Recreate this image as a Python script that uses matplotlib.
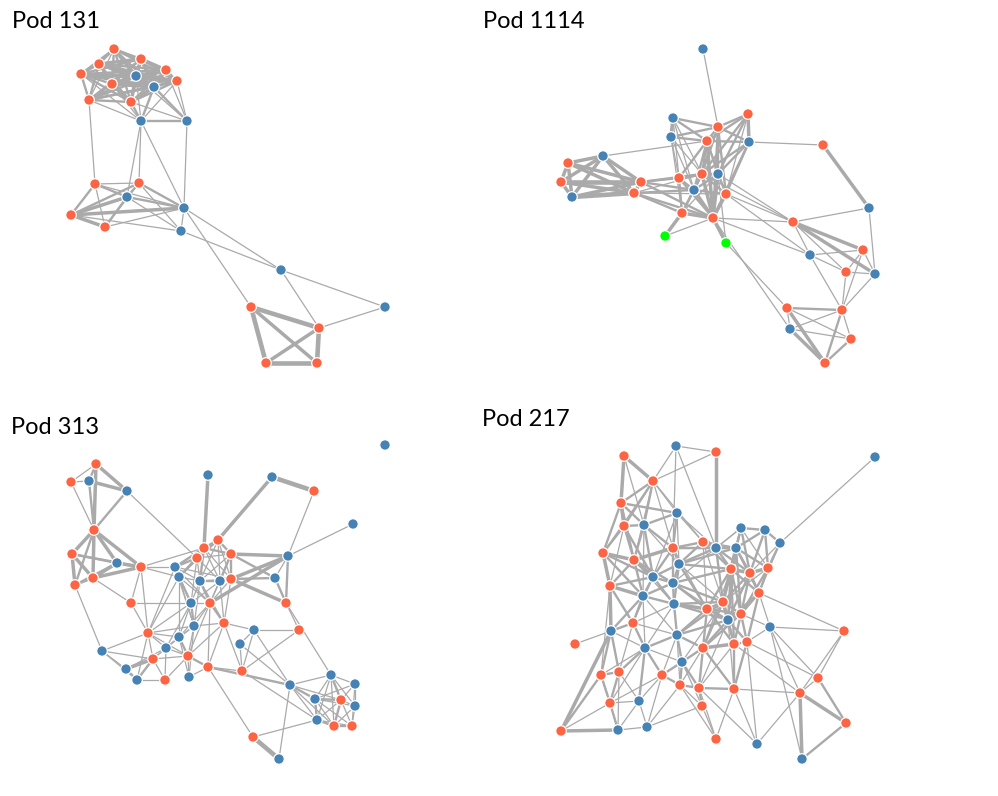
"""Four co-occurrence networks, one per pod, drawn on a shared pixel canvas."""

import matplotlib
import matplotlib.pyplot as plt

matplotlib.use("Agg")

NODE_COLORS = {"o": "#fc6443", "b": "#4682b4", "g": "#00ff00"}
EDGE_COLOR = "#aaaaaa"

# ── Pod 131 ─────────────────────────────────────────────────────────
POD131_NODES = [
    (114, 49, "o"), (99, 64, "o"), (141, 59, "o"), (81, 74, "o"),
    (136, 76, "b"), (166, 70, "o"), (177, 81, "o"), (112, 84, "o"),
    (154, 87, "b"), (89, 100, "o"), (131, 102, "o"), (141, 121, "b"),
    (187, 121, "b"), (95, 184, "o"), (139, 183, "o"), (127, 197, "b"),
    (71, 215, "o"), (105, 227, "o"), (184, 208, "b"), (181, 231, "b"),
    (281, 270, "b"), (385, 307, "b"), (251, 307, "o"), (319, 328, "o"),
    (266, 363, "o"), (317, 363, "o"),
]
POD131_EDGES = [
    (0, 1, 2), (0, 2, 2), (0, 3, 2), (0, 4, 3), (0, 5, 2), (0, 7, 2),
    (0, 8, 2), (0, 9, 1), (0, 10, 2), (1, 2, 3), (1, 3, 2), (1, 4, 3),
    (1, 5, 2), (1, 7, 2), (1, 8, 2), (1, 9, 2), (1, 10, 2), (2, 3, 2),
    (2, 4, 3), (2, 5, 3), (2, 6, 2), (2, 7, 2), (2, 8, 3), (2, 10, 2),
    (3, 4, 3), (3, 5, 2), (3, 7, 2), (3, 8, 3), (3, 9, 2), (3, 10, 2),
    (4, 5, 3), (4, 6, 3), (4, 7, 3), (4, 8, 3), (4, 9, 2), (4, 10, 3),
    (5, 6, 2), (5, 7, 2), (5, 8, 3), (5, 9, 2), (5, 10, 2), (6, 7, 2),
    (6, 8, 2), (6, 9, 2), (6, 10, 2), (7, 8, 3), (7, 9, 2), (7, 10, 3),
    (8, 9, 2), (8, 10, 3), (9, 10, 2), (0, 6, 2), (1, 6, 2), (2, 9, 2),
    (3, 6, 2),
    (11, 4, 1), (11, 8, 2), (11, 10, 2), (11, 7, 1), (11, 9, 1),
    (11, 6, 1), (11, 3, 1), (12, 6, 1), (12, 8, 2), (12, 5, 1),
    (12, 10, 1), (12, 4, 1), (11, 12, 2),
    (9, 13, 1), (11, 14, 1), (11, 15, 1), (12, 18, 1), (11, 18, 1),
    (13, 14, 1), (13, 15, 2), (13, 16, 2), (13, 17, 1), (13, 18, 1),
    (14, 15, 2), (14, 16, 2), (14, 18, 2), (14, 17, 1), (15, 16, 3),
    (15, 17, 2), (15, 18, 2), (15, 19, 1), (16, 17, 3), (16, 18, 3),
    (17, 18, 1), (18, 19, 1), (16, 19, 1), (14, 19, 1),
    (18, 20, 1), (19, 20, 1), (18, 22, 1), (20, 21, 1), (20, 23, 1),
    (21, 23, 1), (22, 23, 4), (22, 24, 4), (22, 25, 3), (23, 24, 3),
    (23, 25, 4), (24, 25, 4),
]

# ── Pod 1114 ────────────────────────────────────────────────────────
POD1114_NODES = [
    (703, 49, "b"), (673, 118, "b"), (748, 114, "o"), (718, 127, "o"),
    (671, 137, "b"), (707, 141, "o"), (749, 142, "b"), (603, 156, "b"),
    (568, 163, "o"), (561, 182, "o"), (641, 182, "o"), (679, 178, "o"),
    (702, 174, "o"), (718, 174, "b"), (694, 190, "b"), (634, 193, "o"),
    (572, 197, "b"), (726, 194, "o"), (682, 213, "o"), (713, 218, "o"),
    (665, 236, "g"), (726, 243, "g"), (823, 145, "o"), (869, 208, "b"),
    (793, 222, "o"), (863, 250, "o"), (810, 255, "b"), (846, 272, "o"),
    (875, 274, "b"), (787, 308, "o"), (842, 310, "o"), (790, 329, "b"),
    (851, 339, "o"), (825, 363, "o"),
]
POD1114_EDGES = [
    (0, 3, 1),
    (7, 8, 3), (7, 9, 3), (7, 16, 3), (7, 10, 3), (7, 15, 3), (8, 9, 3),
    (8, 16, 3), (8, 10, 3), (8, 15, 3), (9, 16, 3), (9, 10, 4), (9, 15, 3),
    (16, 10, 3), (16, 15, 4), (10, 15, 3), (7, 5, 1),
    (10, 11, 2), (10, 12, 2), (10, 14, 2), (15, 14, 2), (15, 19, 2),
    (15, 18, 2), (10, 13, 1), (15, 12, 1), (10, 19, 2), (15, 17, 1),
    (1, 3, 2), (1, 4, 3), (1, 5, 2), (1, 11, 1), (1, 14, 1), (1, 12, 1),
    (2, 3, 2), (2, 5, 2), (2, 6, 3), (2, 12, 2), (2, 13, 2), (2, 17, 1),
    (3, 4, 2), (3, 5, 2), (3, 6, 2), (3, 11, 1), (3, 12, 2), (3, 13, 2),
    (3, 14, 1), (3, 19, 2), (4, 5, 2), (4, 11, 1), (4, 14, 1), (4, 18, 1),
    (4, 12, 1), (5, 6, 2), (5, 11, 2), (5, 12, 2), (5, 13, 2), (5, 14, 2),
    (5, 19, 3), (5, 17, 1), (6, 12, 2), (6, 13, 2), (6, 17, 2), (6, 19, 2),
    (11, 12, 2), (11, 13, 1), (11, 14, 2), (11, 18, 2), (11, 19, 2),
    (12, 13, 2), (12, 14, 2), (12, 17, 2), (12, 19, 3), (12, 18, 2),
    (13, 14, 2), (13, 17, 2), (13, 19, 3), (13, 18, 1), (14, 17, 2),
    (14, 18, 2), (14, 19, 3), (17, 19, 3), (18, 19, 3), (3, 17, 2),
    (18, 20, 3), (19, 21, 3), (19, 20, 1), (13, 21, 1),
    (6, 22, 1), (22, 23, 3), (23, 24, 1), (23, 28, 1),
    (13, 24, 1), (17, 24, 1), (19, 24, 1), (12, 24, 1), (17, 26, 1),
    (19, 26, 1), (24, 25, 3), (24, 28, 3), (24, 27, 1), (24, 26, 1),
    (26, 25, 1), (26, 27, 1), (26, 30, 1), (25, 27, 1), (25, 28, 1),
    (25, 30, 1), (27, 28, 1), (27, 30, 1), (28, 30, 1),
    (29, 30, 2), (29, 31, 1), (29, 33, 3), (30, 31, 1), (30, 32, 1),
    (30, 33, 2), (31, 32, 1), (31, 33, 3), (32, 33, 2), (29, 32, 1),
    (21, 29, 1), (19, 31, 1),
]

# ── Pod 313 ─────────────────────────────────────────────────────────
POD313_NODES = [
    (96, 464, "o"), (71, 482, "o"), (89, 481, "b"), (127, 491, "b"),
    (208, 475, "b"), (94, 530, "o"), (72, 554, "o"), (117, 563, "b"),
    (141, 567, "o"), (93, 578, "o"), (75, 585, "o"), (131, 603, "o"),
    (218, 540, "o"), (204, 548, "o"), (231, 554, "o"), (197, 558, "o"),
    (175, 567, "b"), (179, 577, "b"), (200, 581, "b"), (220, 581, "b"),
    (231, 579, "o"), (191, 603, "b"), (210, 603, "o"), (194, 626, "b"),
    (224, 623, "o"), (148, 633, "o"), (179, 637, "b"), (166, 648, "b"),
    (188, 656, "o"), (102, 651, "b"), (153, 659, "o"), (208, 667, "o"),
    (126, 669, "b"), (137, 680, "b"), (165, 680, "o"), (189, 677, "b"),
    (272, 477, "b"), (314, 491, "o"), (353, 524, "b"), (288, 556, "b"),
    (275, 578, "b"), (286, 603, "o"), (299, 630, "o"), (254, 630, "b"),
    (240, 644, "b"), (242, 671, "o"), (331, 675, "b"), (290, 685, "b"),
    (355, 684, "b"), (315, 699, "b"), (341, 700, "o"), (355, 706, "b"),
    (317, 720, "b"), (334, 726, "o"), (352, 726, "o"), (253, 737, "o"),
    (279, 759, "b"), (385, 445, "b"),
]
POD313_EDGES = [
    (0, 1, 1), (0, 2, 2), (0, 3, 3), (0, 5, 3), (1, 2, 1), (2, 3, 3),
    (2, 5, 2), (3, 5, 2), (1, 5, 1), (3, 15, 1),
    (5, 6, 3), (5, 7, 3), (5, 8, 3), (5, 9, 3), (5, 10, 2),
    (6, 7, 2), (6, 9, 3), (6, 10, 3), (7, 9, 3), (7, 8, 3), (9, 8, 3),
    (10, 7, 2), (10, 9, 2), (6, 8, 2),
    (8, 16, 1), (8, 11, 1), (9, 11, 1), (10, 29, 1), (11, 25, 1), (8, 13, 1),
    (4, 13, 3), (36, 12, 3), (36, 37, 4), (37, 39, 1), (38, 39, 1),
    (39, 40, 1), (39, 41, 2), (39, 14, 3), (39, 20, 3), (39, 22, 3),
    (40, 41, 2), (41, 42, 1), (20, 41, 3), (41, 46, 1), (20, 40, 2),
    (14, 40, 2), (42, 43, 1), (42, 45, 1), (43, 45, 1), (43, 47, 1),
    (12, 13, 2), (12, 14, 2), (12, 15, 2), (12, 16, 1), (12, 17, 1),
    (12, 18, 1), (12, 19, 1), (12, 20, 1), (13, 14, 2), (13, 15, 2),
    (13, 16, 2), (13, 17, 1), (13, 18, 2), (13, 19, 1), (13, 20, 1),
    (14, 15, 1), (14, 18, 1), (14, 19, 2), (14, 20, 2), (14, 22, 1),
    (15, 16, 2), (15, 17, 2), (15, 18, 1), (15, 19, 1), (15, 21, 1),
    (16, 17, 2), (16, 18, 1), (16, 21, 1), (16, 23, 1), (16, 20, 1),
    (17, 18, 1), (17, 21, 2), (17, 22, 1), (17, 23, 1), (17, 25, 1),
    (18, 19, 2), (18, 20, 1), (18, 21, 1), (18, 22, 2), (18, 23, 1),
    (19, 20, 2), (19, 22, 1), (19, 24, 1), (20, 22, 1), (20, 24, 1),
    (21, 22, 1), (21, 23, 2), (21, 26, 1), (21, 25, 1),
    (22, 23, 1), (22, 24, 2), (22, 31, 1), (22, 28, 1),
    (23, 24, 1), (23, 26, 1), (23, 28, 1), (23, 27, 1),
    (24, 31, 1), (24, 43, 1), (24, 45, 1),
    (25, 26, 1), (25, 27, 1), (25, 29, 1), (25, 30, 1), (25, 28, 1),
    (26, 27, 1), (26, 28, 2), (26, 30, 1), (26, 35, 1),
    (27, 28, 1), (27, 30, 1), (27, 34, 1),
    (28, 31, 2), (28, 34, 1), (28, 35, 1), (28, 30, 1),
    (29, 32, 1), (29, 33, 1), (29, 30, 1),
    (30, 32, 3), (30, 33, 2), (30, 34, 1), (32, 33, 2), (33, 34, 1),
    (31, 47, 2), (31, 55, 1), (31, 35, 1), (31, 45, 1),
    (44, 47, 1), (43, 44, 1), (44, 45, 1),
    (16, 25, 1), (17, 26, 1), (21, 27, 1), (23, 35, 1), (22, 26, 1),
    (24, 28, 1), (18, 24, 1), (19, 21, 1), (16, 22, 1), (25, 33, 1),
    (27, 32, 1), (25, 23, 1), (8, 17, 1), (8, 25, 1), (11, 21, 1),
    (47, 46, 1), (47, 49, 2), (47, 52, 1), (47, 56, 1), (45, 52, 1),
    (55, 52, 1), (55, 56, 4), (47, 50, 1), (47, 53, 1),
    (46, 48, 1), (46, 49, 1), (46, 50, 2), (46, 51, 1), (46, 52, 1),
    (46, 53, 1), (48, 50, 1), (48, 51, 1), (48, 54, 1), (48, 49, 1),
    (49, 50, 2), (49, 52, 2), (49, 53, 1), (49, 51, 1), (49, 54, 1),
    (50, 51, 1), (50, 52, 1), (50, 53, 2), (50, 54, 1),
    (51, 53, 1), (51, 54, 1), (52, 53, 2), (52, 54, 1), (53, 54, 2),
]

# ── Pod 217 ─────────────────────────────────────────────────────────
POD217_NODES = [
    (676, 446, "b"), (716, 452, "o"), (624, 456, "o"), (653, 481, "o"),
    (621, 503, "o"), (677, 513, "b"), (624, 526, "o"), (644, 525, "b"),
    (703, 542, "o"), (716, 548, "b"), (603, 553, "o"), (673, 548, "o"),
    (634, 560, "o"), (679, 564, "b"), (653, 577, "b"), (673, 583, "b"),
    (610, 586, "o"), (643, 596, "b"), (674, 604, "b"), (707, 609, "o"),
    (633, 623, "o"), (611, 631, "b"), (875, 457, "b"), (741, 528, "b"),
    (765, 530, "b"), (780, 543, "b"), (736, 548, "b"), (731, 569, "o"),
    (750, 573, "o"), (768, 568, "o"), (759, 593, "o"), (723, 602, "o"),
    (741, 614, "o"), (728, 620, "b"), (770, 627, "b"), (844, 631, "o"),
    (575, 644, "o"), (677, 635, "b"), (645, 648, "b"), (703, 648, "o"),
    (734, 644, "o"), (747, 642, "o"), (682, 662, "b"), (601, 675, "o"),
    (619, 672, "o"), (662, 675, "o"), (680, 685, "o"), (699, 688, "o"),
    (734, 689, "o"), (610, 703, "o"), (639, 701, "b"), (702, 706, "o"),
    (647, 727, "b"), (618, 730, "b"), (561, 731, "o"), (716, 739, "o"),
    (818, 678, "o"), (800, 693, "o"), (846, 723, "o"), (757, 744, "b"),
    (802, 759, "b"),
]
POD217_EDGES = [
    (0, 1, 1), (0, 3, 1), (0, 9, 1), (0, 11, 1), (1, 3, 1), (1, 9, 3),
    (2, 3, 3), (2, 4, 3), (2, 7, 1),
    (3, 4, 2), (3, 5, 1), (3, 7, 2), (3, 6, 2), (3, 12, 1), (3, 11, 1),
    (3, 10, 1), (3, 8, 1),
    (4, 6, 3), (4, 7, 2), (4, 10, 2), (4, 5, 2), (4, 12, 2),
    (5, 7, 2), (5, 11, 2), (5, 8, 1), (5, 13, 1), (5, 14, 1),
    (6, 7, 2), (6, 10, 2), (6, 12, 2), (6, 14, 2), (6, 16, 1),
    (7, 12, 2), (7, 14, 2), (7, 11, 2), (7, 17, 1),
    (8, 9, 2), (8, 11, 2), (8, 13, 2), (8, 26, 2), (8, 19, 1),
    (9, 11, 2), (9, 13, 2), (9, 26, 2), (9, 27, 2), (9, 15, 1),
    (10, 12, 3), (10, 16, 3), (10, 14, 2), (10, 17, 2),
    (11, 12, 3), (11, 13, 2), (11, 14, 2), (11, 15, 2),
    (12, 14, 3), (12, 16, 2), (12, 17, 2), (12, 15, 2),
    (13, 14, 2), (13, 15, 2), (13, 18, 2), (13, 27, 2),
    (14, 15, 2), (14, 17, 2), (14, 16, 2), (14, 18, 2),
    (15, 17, 2), (15, 18, 2), (15, 19, 2),
    (16, 17, 3), (16, 20, 2), (16, 21, 3), (16, 43, 1),
    (17, 18, 2), (17, 20, 2), (17, 21, 2), (17, 38, 1),
    (18, 19, 3), (18, 37, 2), (18, 20, 1), (18, 38, 1),
    (19, 31, 2), (19, 33, 2), (19, 37, 2), (19, 39, 2),
    (20, 21, 2), (20, 38, 2), (20, 44, 1),
    (21, 38, 1), (21, 36, 1), (21, 43, 2), (21, 44, 2),
    (22, 25, 1),
    (23, 24, 2), (23, 26, 2), (23, 27, 2), (23, 28, 2), (23, 9, 1),
    (23, 29, 1), (24, 25, 2), (24, 28, 2), (24, 29, 2), (24, 26, 2),
    (25, 29, 2), (25, 30, 1), (25, 28, 1),
    (26, 27, 3), (26, 28, 2), (26, 31, 2), (26, 29, 2), (26, 30, 2),
    (27, 28, 3), (27, 31, 3), (27, 32, 2), (27, 30, 2), (27, 33, 2),
    (28, 29, 3), (28, 30, 2), (28, 32, 2), (28, 33, 2),
    (29, 30, 2), (29, 32, 2),
    (30, 32, 2), (30, 34, 1), (30, 35, 1), (30, 33, 2), (30, 41, 2),
    (31, 32, 2), (31, 33, 3), (31, 40, 2), (31, 39, 2),
    (32, 33, 2), (32, 40, 2), (32, 41, 2), (32, 34, 1),
    (33, 40, 2), (33, 39, 2), (33, 37, 2), (33, 48, 1),
    (34, 35, 1), (34, 56, 1), (34, 41, 1), (34, 57, 1), (34, 60, 1),
    (35, 56, 1), (35, 57, 1),
    (13, 26, 2), (15, 27, 2), (18, 31, 2), (19, 27, 2), (13, 31, 1),
    (15, 31, 2), (18, 33, 2), (9, 28, 2), (8, 27, 2), (26, 33, 2),
    (27, 40, 2), (31, 37, 2), (19, 40, 2), (32, 39, 2), (33, 41, 2),
    (11, 26, 1), (9, 31, 2), (8, 31, 1), (28, 31, 2), (26, 32, 2),
    (29, 31, 1), (19, 32, 2), (27, 39, 1), (15, 33, 1), (9, 23, 1),
    (13, 19, 2), (11, 19, 1), (5, 9, 1), (7, 13, 1), (12, 18, 1),
    (14, 20, 1), (17, 37, 1), (20, 37, 1), (31, 42, 1), (33, 47, 1),
    (37, 38, 2), (37, 39, 2), (37, 42, 2), (37, 45, 1), (37, 46, 1),
    (38, 44, 2), (38, 50, 2), (38, 42, 1), (38, 45, 2), (38, 43, 1),
    (38, 49, 1),
    (39, 40, 3), (39, 42, 2), (39, 47, 2), (39, 48, 2), (39, 46, 1),
    (40, 41, 2), (40, 48, 2), (40, 47, 1), (40, 57, 1),
    (41, 48, 2), (41, 56, 1), (41, 59, 1),
    (42, 45, 2), (42, 46, 2), (42, 47, 2), (42, 51, 1),
    (43, 44, 2), (43, 49, 2), (43, 53, 1),
    (44, 49, 2), (44, 50, 1), (44, 53, 1),
    (45, 46, 2), (45, 50, 1), (45, 52, 1), (45, 49, 1),
    (46, 47, 2), (46, 51, 1), (46, 55, 1), (46, 52, 1),
    (47, 48, 2), (47, 51, 2), (47, 55, 1), (47, 59, 1),
    (48, 59, 1), (48, 57, 1), (48, 55, 1),
    (49, 53, 2), (49, 50, 1),
    (50, 52, 1), (50, 53, 1), (51, 55, 1), (51, 52, 1), (52, 53, 1),
    (54, 21, 3), (54, 43, 2), (54, 53, 3), (54, 49, 1),
    (56, 57, 1), (56, 58, 2), (57, 58, 3), (57, 60, 3), (58, 60, 2),
    (57, 59, 1),
]

PANELS = [
    ("Pod 131", (12, 22), POD131_NODES, POD131_EDGES),
    ("Pod 1114", (483, 22), POD1114_NODES, POD1114_EDGES),
    ("Pod 313", (11, 428), POD313_NODES, POD313_EDGES),
    ("Pod 217", (482, 419), POD217_NODES, POD217_EDGES),
]


def draw_network(ax, nodes, edges):
    """Draw weighted grey edges underneath the coloured nodes."""
    for a, b, weight in edges:
        xa, ya, _ = nodes[a]
        xb, yb, _ = nodes[b]
        ax.plot([xa, xb], [ya, yb], color=EDGE_COLOR,
                linewidth=0.1 + 0.8 * weight, solid_capstyle="butt",
                zorder=1)
    ax.scatter([n[0] for n in nodes], [n[1] for n in nodes],
               c=[NODE_COLORS[n[2]] for n in nodes], s=58,
               edgecolors="white", linewidths=0.9, zorder=3)


fig = plt.figure(figsize=(9.98, 7.96), dpi=100)
ax = fig.add_axes([0, 0, 1, 1])
ax.set_xlim(0, 998)
ax.set_ylim(796, 0)
ax.axis("off")

for title, (tx, ty), nodes, edges in PANELS:
    draw_network(ax, nodes, edges)
    ax.text(tx, ty, title, fontsize=17, family=["Lato", "DejaVu Sans"],
            ha="left", va="center", color="black")

fig.savefig("out.png", dpi=100, facecolor="white")
